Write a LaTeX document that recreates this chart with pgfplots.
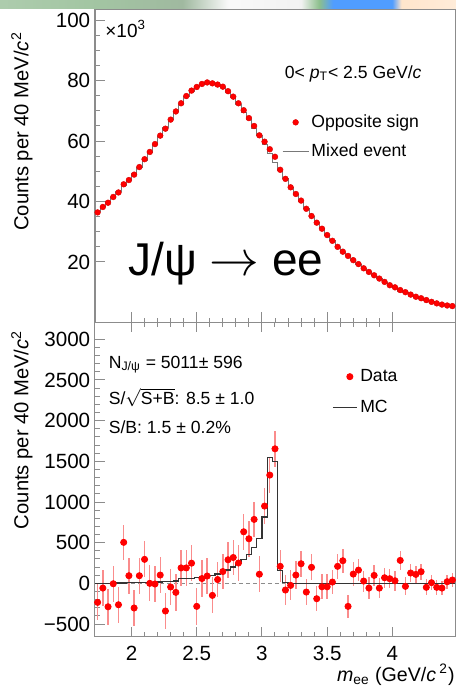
\documentclass[border=0pt]{standalone}
\usepackage{pgfplots}
\pgfplotsset{compat=1.18}
\usepackage{pgfplotstable}
\usepackage{amsmath}
\usepackage{fontspec}
\setmainfont{Liberation Sans}

\definecolor{rootred}{RGB}{255,0,0}
\definecolor{errred}{RGB}{250,140,140}
\definecolor{frame}{RGB}{140,140,140}
\definecolor{mixgray}{RGB}{120,120,120}

% blurred slide background above the frame
\pgfdeclarehorizontalshading{slidestrip}{100bp}{
  color(0bp)=(white!80!green!60!gray);
  color(25bp)=(white!80!green!60!gray);
  color(35bp)=(white!75!green!55!gray);
  color(45bp)=(white!78!green!45!gray);
  color(50bp)=(white!95!gray);
  color(58bp)=(white!90!gray);
  color(60bp)=(white!60!green!50!gray);
  color(61.5bp)=(white!45!blue!70!cyan);
  color(68bp)=(white!45!blue!70!cyan);
  color(69bp)=(white!80!orange);
  color(75bp)=(white!85!orange);
  color(100bp)=(white!85!orange)}

% Opposite-sign pairs and mixed-event background (x10^3 counts per 40 MeV/c^2)
\pgfplotstableread{
x    os    me
1.74 36.4 36.6
1.78 38.2 38.3
1.82 39.6 39.9
1.86 41.5 41.5
1.90 43.0 43.3
1.94 45.7 45.2
1.98 47.1 47.0
2.02 48.9 49.2
2.06 51.4 51.3
2.10 54.0 53.7
2.14 56.4 56.4
2.18 59.0 59.0
2.22 61.8 61.7
2.26 64.1 64.4
2.30 67.1 67.1
2.34 69.8 69.9
2.38 72.5 72.3
2.42 74.9 74.7
2.46 76.7 76.5
2.50 77.9 78.2
2.54 78.9 78.8
2.58 79.4 79.3
2.62 79.1 79.2
2.66 78.7 78.7
2.70 78.0 77.9
2.74 76.5 76.2
2.78 74.7 74.4
2.82 72.5 72.3
2.86 70.2 69.6
2.90 67.6 67.1
2.94 65.0 64.2
2.98 61.9 61.8
3.02 59.8 58.9
3.06 57.3 56.0
3.10 54.8 53.1
3.14 50.5 50.3
3.18 47.5 47.6
3.22 44.7 44.7
3.26 42.5 42.4
3.30 40.3 40.1
3.34 37.6 37.7
3.38 35.2 35.0
3.42 33.0 33.2
3.46 31.0 31.0
3.50 28.9 28.9
3.54 27.0 27.0
3.58 25.0 24.8
3.62 23.4 23.1
3.66 22.0 22.3
3.70 20.6 20.5
3.74 19.3 19.1
3.78 17.9 17.9
3.82 16.7 16.8
3.86 15.6 15.5
3.90 14.5 14.6
3.94 13.4 13.3
3.98 12.3 12.2
4.02 11.6 11.6
4.06 10.7 10.4
4.10 10.0 10.0
4.14 9.2 9.1
4.18 8.5 8.4
4.22 8.0 7.9
4.26 7.4 7.4
4.30 6.8 6.8
4.34 6.3 6.3
4.38 5.9 6.0
4.42 5.6 5.6
4.46 5.4 5.4
}\ostable

% Background-subtracted signal with statistical errors
\pgfplotstableread{
x    y     err
1.74 -234 220
1.78 -58  220
1.82 -288 220
1.86 -5   220
1.90 -263 220
1.94 504  215
1.98 94   220
2.02 -303 220
2.06 94   220
2.10 295  220
2.14 0    220
2.18 -8   225
2.22 102  225
2.26 -340 225
2.30 -45  225
2.34 -111 225
2.38 190  225
2.42 190  225
2.46 248  225
2.50 -283 225
2.54 59   225
2.58 90   220
2.62 -148 220
2.66 47   220
2.70 145  220
2.74 290  220
2.78 318  220
2.82 250  220
2.86 634  220
2.90 548  220
2.94 786  220
2.98 112  220
3.02 950  220
3.06 1331 225
3.10 1654 225
3.14 209  195
3.18 -82  190
3.22 -25  185
3.26 102  175
3.30 241  160
3.34 -107 160
3.38 197  160
3.42 -189 155
3.46 -42  155
3.50 -42  155
3.54 16   150
3.58 209  150
3.62 278  150
3.66 -283 145
3.70 114  145
3.74 163  140
3.78 28   130
3.82 -58  130
3.86 98   130
3.90 -58  125
3.94 69   125
3.98 57   120
4.02 32   120
4.06 282  120
4.10 -37  110
4.14 127  110
4.18 110  105
4.22 143  100
4.26 -49  100
4.30 8    95
4.34 -49  90
4.38 -58  90
4.42 20   85
4.46 41   85
}\sigtable

\pgfplotsset{
  panel/.style={
    scale only axis, width=180pt,
    xmin=1.72, xmax=4.48,
    axis line style={frame, line width=0.5pt},
    every tick/.style={frame, line width=0.5pt},
    major tick length=5pt, minor tick length=2.3pt,
    tick align=inside,
    xtick={2,2.5,3,3.5,4}, minor x tick num=4,
    ytick pos=left,
    ticklabel style={font=\fontsize{10.3}{12}\selectfont},
    yticklabel style={inner sep=0pt, xshift=-2.2pt},
    xticklabel style={inner sep=0pt, yshift=-4.6pt},
    legend cell align=left,
  },
}

\begin{document}
\begin{tikzpicture}
\path (0pt,0pt) rectangle (228pt,-343.5pt);
\shade[shading=slidestrip] (0pt,0pt) rectangle (228pt,-4.1pt);

% upper panel: invariant-mass spectra
\begin{axis}[panel,
  at={(47.5pt,-161.2pt)}, anchor=south west, height=156.55pt,
  ymin=0, ymax=103.6,
  ytick={20,40,60,80,100}, yticklabels={20,40,60,80,100},
  minor y tick num=3,
  xtick pos=left, xticklabels={},
  legend style={at={(0.519,0.592)}, anchor=west, draw=none, fill=none,
    inner sep=0pt, row sep=5.7pt, column sep=1.2pt,
    nodes={inner sep=0pt, text height=7pt, text depth=2pt},
    font=\fontsize{8.8}{10}\selectfont},
]
\addplot[only marks, mark=*, mark size=1.45pt,
  mark options={fill=rootred, draw=rootred!85!black, line width=0.2pt},
  legend image code/.code={\path (0pt,0pt) (13pt,0pt);
    \draw[##1] plot coordinates {(6.5pt,0pt)};}]
  table[x=x, y=os] {\ostable};
\addlegendentry{Opposite sign}
\addplot[const plot mark mid, mixgray, line width=0.4pt, no marks,
  legend image code/.code={\draw[mixgray, line width=0.4pt] (0pt,0pt) -- (13pt,0pt);}]
  table[x=x, y=me] {\ostable};
\addlegendentry{Mixed event}
\end{axis}

% lower panel: signal after background subtraction
\begin{axis}[panel,
  at={(47.5pt,-161.2pt)}, anchor=north west, height=157.15pt,
  ymin=-656, ymax=3208,
  ytick={-500,0,500,1000,1500,2000,2500,3000},
  yticklabels={−500,0,500,1000,1500,2000,2500,3000},
  minor y tick num=4,
  xtick pos=both, xticklabel pos=left,
  xticklabels={2,2.5,3,3.5,4},
  legend style={at={(0.658,0.778)}, anchor=west, draw=none, fill=none,
    inner sep=0pt, row sep=6.5pt, column sep=1.5pt,
    nodes={inner sep=0pt, text height=7pt, text depth=2pt},
    font=\fontsize{8.8}{10}\selectfont},
]
\addplot[frame, line width=0.4pt, dash pattern=on 2pt off 1.6pt, forget plot]
  coordinates {(1.72,0) (4.48,0)};
\addplot[only marks, mark=*, mark size=1.55pt,
  mark options={fill=rootred, draw=rootred},
  error bars/.cd, y dir=both, y explicit,
  error bar style={errred, line width=0.7pt}, error mark=none]
  table[x=x, y=y, y error=err] {\sigtable};
\addlegendentry{Data}
\addplot[const plot, black!80, line width=0.6pt,
  legend image code/.code={\draw[black!80, line width=0.5pt] (0pt,0pt) -- (12pt,0pt);}]
  coordinates {
  (1.72,2) (1.76,2) (1.80,3) (1.84,3) (1.88,4) (1.92,5) (1.96,6) (2.00,7)
  (2.04,8) (2.08,10) (2.12,12) (2.16,14) (2.20,17) (2.24,20) (2.28,25)
  (2.32,30) (2.36,55) (2.40,58) (2.44,62) (2.48,68) (2.52,78) (2.56,88)
  (2.60,100) (2.64,115) (2.68,135) (2.72,165) (2.76,200) (2.80,240)
  (2.84,290) (2.88,355) (2.92,440) (2.96,553) (3.00,815) (3.04,1550)
  (3.08,1500) (3.12,160) (3.16,15) (3.20,0) (4.48,0)};
\addlegendentry{MC}
\end{axis}

% texts
\node[anchor=base west, inner sep=0pt, font=\fontsize{9.5}{11}\selectfont]
  at (52.5pt,-18.7pt) {\texttimes10\textsuperscript{3}};
\node[anchor=base west, inner sep=0pt, font=\fontsize{8.8}{10}\selectfont]
  at (142.2pt,-39pt) {0< \textit{p}\textsubscript{T}< 2.5 GeV/\textit{c}};
\node[anchor=base west, inner sep=0pt, font=\fontsize{23}{26}\selectfont]
  at (64pt,-137.5pt) {J/ψ $\rightarrow$ ee};

\node[anchor=base west, inner sep=0pt, font=\fontsize{8.8}{10}\selectfont]
  at (54.2pt,-184pt) {N\textsubscript{J/ψ} = 5011± 596};
\node[anchor=base west, inner sep=0pt, font=\fontsize{8.8}{10}\selectfont]
  at (54.2pt,-202.3pt) {S/$\sqrt{\text{S+B}}$: 8.5 ± 1.0};
\node[anchor=base west, inner sep=0pt, font=\fontsize{8.8}{10}\selectfont]
  at (54.2pt,-216.5pt) {S/B: 1.5 ± 0.2\%};

\node[anchor=base east, inner sep=0pt, font=\fontsize{9.8}{11}\selectfont]
  at (227.5pt,-340.6pt) {\textit{m}\textsubscript{ee} (GeV/\textit{c}\,\textsuperscript{2})};

\node[rotate=90, anchor=base east, inner sep=0pt, font=\fontsize{10.1}{12}\selectfont]
  at (14.15pt,-15.85pt) {Counts per 40 MeV/\textit{c}\textsuperscript{2}};
\node[rotate=90, anchor=base east, inner sep=0pt, font=\fontsize{10.1}{12}\selectfont]
  at (14.15pt,-165pt) {Counts per 40 MeV/\textit{c}\textsuperscript{2}};
\end{tikzpicture}
\end{document}
